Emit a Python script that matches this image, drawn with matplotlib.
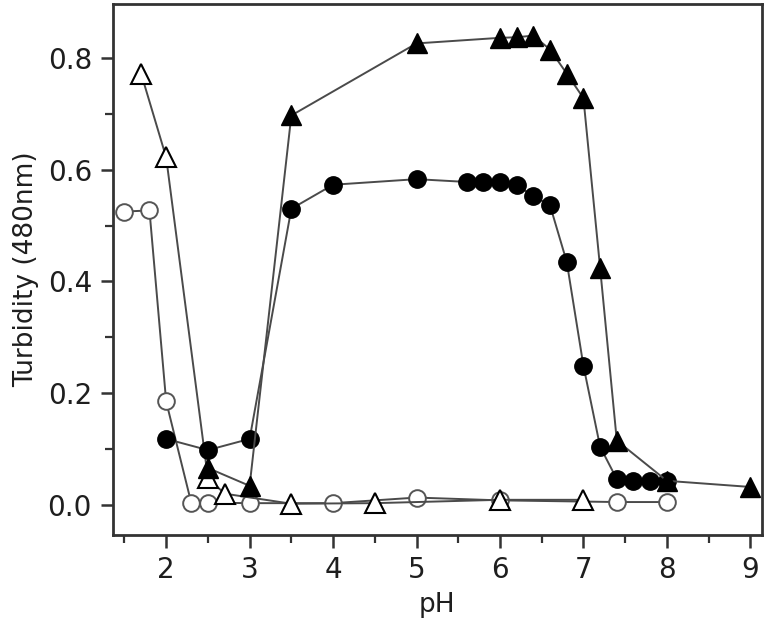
import numpy as np
import matplotlib
matplotlib.use('Agg')
import matplotlib.pyplot as plt
from matplotlib.ticker import MultipleLocator

plt.rcParams['font.family'] = ['DejaVu Sans']

# open circles
oc_x = [1.5, 1.8, 2.0, 2.3, 2.5, 3.0, 4.0, 5.0, 6.0, 7.4, 8.0]
oc_y = [0.525, 0.527, 0.185, 0.004, 0.004, 0.003, 0.003, 0.013, 0.008, 0.005, 0.005]

# open triangles
ot_x = [1.7, 2.0, 2.5, 2.7, 3.5, 4.5, 6.0, 7.0]
ot_y = [0.772, 0.622, 0.048, 0.02, 0.002, 0.003, 0.009, 0.009]

# filled circles
fc_x = [2.0, 2.5, 3.0, 3.5, 4.0, 5.0, 5.6, 5.8, 6.0, 6.2, 6.4, 6.6, 6.8, 7.0, 7.2, 7.4, 7.6, 7.8, 8.0]
fc_y = [0.118, 0.098, 0.118, 0.53, 0.573, 0.583, 0.578, 0.578, 0.578, 0.572, 0.553, 0.536, 0.435, 0.249, 0.104, 0.046, 0.043, 0.043, 0.043]

# filled triangles
ft_x = [2.5, 3.0, 3.5, 5.0, 6.0, 6.2, 6.4, 6.6, 6.8, 7.0, 7.2, 7.4, 8.0, 9.0]
ft_y = [0.066, 0.034, 0.697, 0.826, 0.836, 0.837, 0.84, 0.815, 0.772, 0.728, 0.424, 0.115, 0.043, 0.032]

fig = plt.figure(figsize=(7.67, 6.25), dpi=100)
ax = fig.add_axes([0.147, 0.144, 0.8465, 0.85])

lc = '#4a4a4a'
ax.plot(oc_x, oc_y, '-o', color=lc, lw=1.4, ms=12, mfc='white', mec='#555555', mew=1.4, zorder=2)
ax.plot(ot_x, ot_y, '-^', color=lc, lw=1.4, ms=14, mfc='white', mec='black', mew=1.5, zorder=3)
ax.plot(fc_x, fc_y, '-o', color=lc, lw=1.4, ms=12.5, mfc='black', mec='black', zorder=4)
ax.plot(ft_x, ft_y, '-^', color=lc, lw=1.4, ms=14, mfc='black', mec='black', zorder=5)

ax.set_xlim(1.36, 9.14)
ax.set_ylim(-0.054, 0.897)
ax.xaxis.set_major_locator(MultipleLocator(1))
ax.xaxis.set_minor_locator(MultipleLocator(0.5))
ax.yaxis.set_major_locator(MultipleLocator(0.2))
ax.yaxis.set_minor_locator(MultipleLocator(0.1))
ax.yaxis.set_major_formatter(matplotlib.ticker.FormatStrFormatter('%.1f'))

for s in ax.spines.values():
    s.set_linewidth(2.0)
    s.set_color('#333333')
ax.tick_params(which='major', direction='out', length=9, width=1.8, color='#333333',
               labelsize=20, labelcolor='#1e1e1e', pad=6)
ax.tick_params(which='minor', direction='out', length=6, width=1.6, color='#333333')
ax.tick_params(top=False, right=False, which='both')

ax.set_xlabel('pH', fontsize=19, color='#1e1e1e', labelpad=6)
ax.set_ylabel('Turbidity (480nm)', fontsize=19, color='#1e1e1e', labelpad=6)

fig.savefig('out.png', dpi=100)
